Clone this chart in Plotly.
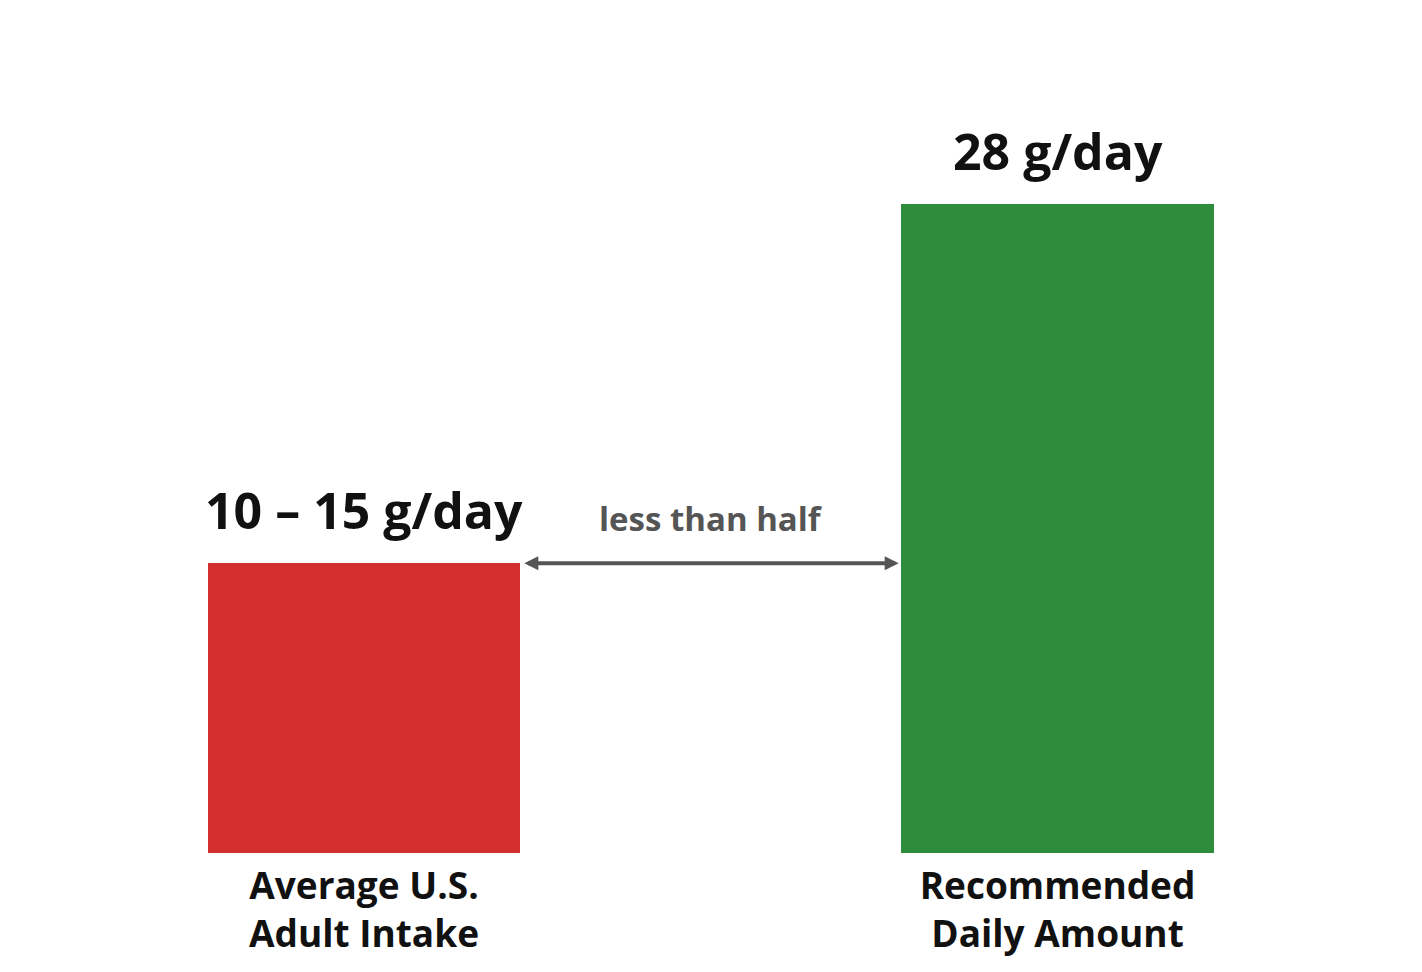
import plotly.graph_objects as go

# fiber intake vs recommendation
categories = ["Average U.S.<br>Adult Intake", "Recommended<br>Daily Amount"]
values = [12.5, 28]  # 10-15 range drawn at its midpoint
value_labels = ["10 – 15 g/day", "28 g/day"]
bar_colors = ["#d32f2f", "#2e8d3c"]
gap_label = "less than half"

bar_width = 0.45
x_pos = list(range(len(categories)))

fig = go.Figure()

fig.add_trace(go.Bar(x=x_pos, y=values, width=bar_width,
                     marker=dict(color=bar_colors, line=dict(width=0)),
                     hoverinfo='skip', showlegend=False))

# value labels above bars
for x, v, lab in zip(x_pos, values, value_labels):
    fig.add_annotation(x=x, y=v, text=f"<b>{lab}</b>", showarrow=False,
                       yanchor='bottom', yshift=17,
                       font=dict(family="Open Sans", size=50, color="#111111"))

# double arrow between the two bars at the height of the smaller one
arrow_gap = 0.004
fig.add_annotation(x=x_pos[1] - bar_width / 2 - arrow_gap, y=values[0],
                   ax=x_pos[0] + bar_width / 2 + arrow_gap, ay=values[0],
                   xref='x', yref='y', axref='x', ayref='y',
                   text='', showarrow=True, arrowhead=2, arrowside='end+start',
                   arrowsize=0.7, arrowwidth=4, arrowcolor="#555555")
fig.add_annotation(x=(x_pos[0] + x_pos[1]) / 2, y=values[0],
                   text=f"<b>{gap_label}</b>", showarrow=False,
                   yanchor='bottom', yshift=20,
                   font=dict(family="Open Sans", size=33, color="#555555"))

# page has an 8px body margin, so the figure is sized to fit inside it
fig.update_layout(
    width=1406, height=956,
    margin=dict(l=0, r=0, t=0, b=111),
    paper_bgcolor='white', plot_bgcolor='white',
    bargap=0,
    xaxis=dict(range=[-0.5133, 1.514], tickvals=x_pos,
               ticktext=[f"<b>{c}</b>" for c in categories],
               tickfont=dict(family="Open Sans", size=37, color="#111111"),
               ticklabelstandoff=8,
               showgrid=False, zeroline=False, showline=False, ticks='',
               fixedrange=True),
    yaxis=dict(range=[0, 36.45], visible=False, fixedrange=True),
)

fig.write_html("out.html")
